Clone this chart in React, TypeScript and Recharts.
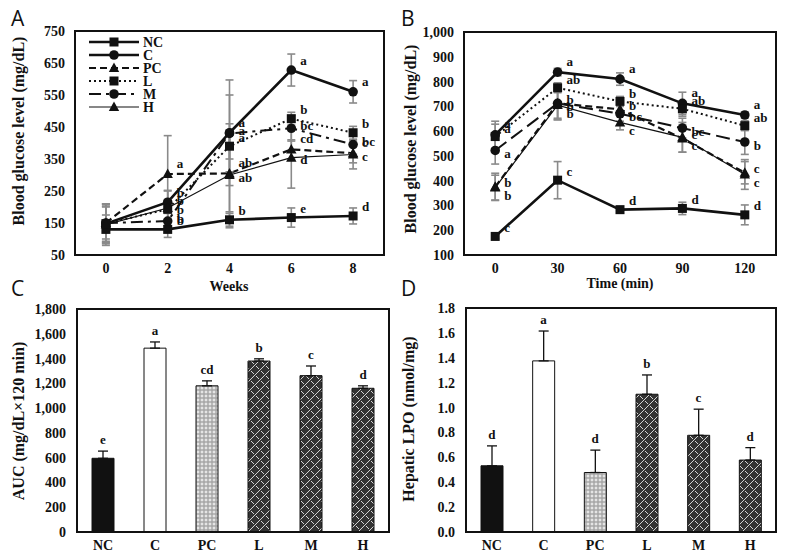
import React from 'react';
import { ComposedChart, Line, Bar, Cell, XAxis, YAxis, ErrorBar, LabelList, Legend } from 'recharts';

// ---------- data ----------
const groups = ['NC', 'C', 'PC', 'L', 'M', 'H'];

// Panel A – weekly blood glucose
const weeks = [0, 2, 4, 6, 8];
const aNC = [130, 130, 160, 167, 172];
const aC = [148, 215, 432, 628, 560];
const aPC = [150, 303, 305, 380, 368];
const aL = [148, 193, 390, 476, 432];
const aM = [150, 156, 430, 446, 395];
const aH = [145, 197, 300, 354, 364];
const aNCe = [45, 25, 25, 30, 25];
const aCe = [60, 35, 165, 50, 35];
const aPCe = [60, 120, 125, 30, 30];
const aLe = [55, 30, 40, 20, 20];
const aMe = [50, 30, 120, 40, 30];
const aHe = [65, 55, 160, 95, 45];
const aNCl = ['', 'b', 'b', 'e', 'd'];
const aCl = ['', 'b', 'a', 'a', 'a'];
const aPCl = ['', 'a', 'ab', 'cd', 'c'];
const aLl = ['', 'b', 'a', 'b', 'b'];
const aMl = ['', 'b', 'a', 'bc', 'bc'];
const aHl = ['', 'b', 'ab', 'd', 'c'];
const aTicks = [50, 150, 250, 350, 450, 550, 650, 750];

// Panel B – OGTT
const times = [0, 30, 60, 90, 120];
const bNC = [175, 402, 283, 288, 262];
const bC = [585, 838, 810, 712, 665];
const bPC = [375, 712, 688, 570, 432];
const bL = [578, 775, 720, 690, 622];
const bM = [522, 712, 670, 612, 556];
const bH = [372, 705, 635, 575, 425];
const bNCe = [10, 75, 12, 25, 40];
const bCe = [55, 15, 25, 45, 12];
const bPCe = [55, 65, 25, 55, 45];
const bLe = [50, 20, 20, 30, 20];
const bMe = [55, 60, 30, 40, 50];
const bHe = [50, 60, 30, 60, 60];
const bNCl = ['c', 'c', 'd', 'd', 'd'];
const bCl = ['a', 'a', 'a', 'a', 'a'];
const bPCl = ['b', 'b', 'b', 'c', 'c'];
const bLl = ['a', 'ab', 'b', 'ab', 'ab'];
const bMl = ['a', 'b', 'bc', 'bc', 'b'];
const bHl = ['b', 'b', 'c', 'c', 'c'];
const bTicks = [100, 200, 300, 400, 500, 600, 700, 800, 900, 1000];

// Panel C – AUC
const auc = [595, 1484, 1180, 1380, 1262, 1160];
const aucErr = [58, 50, 40, 18, 78, 20];
const aucLetters = ['e', 'a', 'cd', 'b', 'c', 'd'];
const cTicks = [0, 200, 400, 600, 800, 1000, 1200, 1400, 1600, 1800];

// Panel D – hepatic LPO
const lpo = [0.532, 1.375, 0.478, 1.107, 0.777, 0.578];
const lpoErr = [0.16, 0.24, 0.18, 0.155, 0.21, 0.1];
const lpoLetters = ['d', 'a', 'd', 'b', 'c', 'd'];
const dTicks = [0, 0.2, 0.4, 0.6, 0.8, 1.0, 1.2, 1.4, 1.6, 1.8];

// ---------- table builders ----------
function buildLineRows(xs: number[], vals: number[][], errs: number[][], letters: string[][]) {
  return xs.map((x, i) => {
    const row: any = { x };
    groups.forEach((g, k) => {
      row[g] = vals[k][i];
      row[g + '_e'] = errs[k][i];
      row[g + '_l'] = letters[k][i];
    });
    return row;
  });
}
const rowsA = buildLineRows(weeks, [aNC, aC, aPC, aL, aM, aH], [aNCe, aCe, aPCe, aLe, aMe, aHe], [aNCl, aCl, aPCl, aLl, aMl, aHl]);
const rowsB = buildLineRows(times, [bNC, bC, bPC, bL, bM, bH], [bNCe, bCe, bPCe, bLe, bMe, bHe], [bNCl, bCl, bPCl, bLl, bMl, bHl]);

function buildBarRows(vals: number[], errs: number[], letters: string[]) {
  return groups.map((g, i) => ({ g, value: vals[i], err: [0, errs[i]], top: vals[i] + errs[i], letter: letters[i] }));
}
const rowsC = buildBarRows(auc, aucErr, aucLetters);
const rowsD = buildBarRows(lpo, lpoErr, lpoLetters);

// ---------- styles ----------
const INK = '#111';
const SERIF = '"Liberation Serif", "Times New Roman", serif';
const lineStyles: Record<string, { w: number; dashA?: string; dashB?: string; shape: string }> = {
  NC: { w: 2.6, shape: 'square' },
  C: { w: 2.6, shape: 'circle' },
  PC: { w: 2.2, dashA: '7 4', dashB: '7 4', shape: 'triangle' },
  L: { w: 2, dashA: '2 3', dashB: '2 3', shape: 'square' },
  M: { w: 2, dashA: '12 5 3 5', dashB: '14 6', shape: 'circle' },
  H: { w: 1.2, shape: 'triangle' },
};
// vertical nudges of the significance letters (label styling per series and panel)
const letterNudge: Record<string, Record<string, number>> = {
  A: { NC: -9, C: -10, PC: -11, L: -9, M: -3, H: 2 },
  B: { NC: -9, C: -11, PC: -4, L: -8, M: 3, H: 8 },
};
const barFills = [INK, '#ffffff', 'url(#dotsPat)', 'url(#weavePat)', 'url(#weavePat)', 'url(#weavePat)'];
const tickStyle = { fontFamily: SERIF, fontWeight: 700, fontSize: 14, fill: INK };

function markerShape(shape: string, cx: number, cy: number, key?: any) {
  if (shape === 'square') return <rect key={key} x={cx - 4.5} y={cy - 4.5} width={9} height={9} fill={INK} />;
  if (shape === 'circle') return <circle key={key} cx={cx} cy={cy} r={4.8} fill={INK} />;
  return <polygon key={key} points={`${cx},${cy - 5.5} ${cx + 5.2},${cy + 4} ${cx - 5.2},${cy + 4}`} fill={INK} />;
}

const makeLetter = (dy: number) => (props: any) => {
  const { x, y, value } = props;
  if (!value || x == null) return null;
  return (
    <text x={x + 9} y={y + dy} textAnchor="start" dominantBaseline="central" fontFamily={SERIF} fontWeight={700} fontSize={13} fill={INK}>
      {value}
    </text>
  );
};

const LegendA = () => (
  <svg width={100} height={82} style={{ overflow: 'visible', display: 'block' }}>
    {groups.map((g, i) => {
      const st = lineStyles[g];
      const y = 6 + i * 13;
      return (
        <g key={g}>
          <line x1={1} x2={51} y1={y} y2={y} stroke={INK} strokeWidth={st.w} strokeDasharray={st.dashA} />
          {markerShape(st.shape, 26, y)}
          <text x={55} y={y} dominantBaseline="central" fontFamily={SERIF} fontWeight={700} fontSize={14} fill={INK}>
            {g}
          </text>
        </g>
      );
    })}
  </svg>
);

function renderLines(panel: 'A' | 'B') {
  return groups.map((g) => {
    const st = lineStyles[g];
    return (
      <Line
        key={g}
        type="linear"
        dataKey={g}
        stroke={INK}
        strokeWidth={st.w}
        strokeDasharray={panel === 'A' ? st.dashA : st.dashB}
        dot={(p: any) => markerShape(st.shape, p.cx, p.cy, p.index)}
        activeDot={false}
        isAnimationActive={false}
        legendType="none"
      >
        <ErrorBar dataKey={g + '_e'} direction="y" width={4} stroke="#8a8a8a" strokeWidth={1.6} />
        <LabelList dataKey={g + '_l'} content={makeLetter(letterNudge[panel][g])} />
      </Line>
    );
  });
}

const Border = ({ left, top, width, height }: any) => (
  <div
    style={{
      position: 'absolute',
      left: left - 1,
      top: top - 1,
      width: width + 2,
      height: height + 2,
      border: `2px solid ${INK}`,
      boxSizing: 'border-box',
      pointerEvents: 'none',
    }}
  />
);

const PanelLetter = ({ x, y, t }: any) => (
  <div style={{ position: 'absolute', left: x, top: y, fontFamily: '"Open Sans", sans-serif', fontSize: 21, lineHeight: '21px', color: INK }}>{t}</div>
);

const AxisTitle = ({ cx, cy, t, rot }: any) => (
  <div
    style={{
      position: 'absolute',
      left: cx,
      top: cy,
      transform: `translate(-50%, -50%)${rot ? ' rotate(-90deg)' : ''}`,
      whiteSpace: 'nowrap',
      fontFamily: SERIF,
      fontWeight: 700,
      fontSize: rot ? 16 : 14,
      color: INK,
      lineHeight: '17px',
    }}
  >
    {t}
  </div>
);

const fmtComma = (v: number) => v.toLocaleString('en-US');

function BarPanel({ rows, ticks, domain, fmt, margin, yWidth }: any) {
  return (
    <ComposedChart width={393} height={268} data={rows} margin={margin}>
      <XAxis dataKey="g" type="category" tickLine={false} axisLine={false} tickSize={0} tickMargin={8} height={26} tick={tickStyle} interval={0} />
      <YAxis type="number" domain={domain} ticks={ticks} tickFormatter={fmt} tickLine={false} axisLine={false} tickSize={0} tickMargin={11} width={yWidth} tick={tickStyle} interval={0} />
      <Bar dataKey="value" barSize={22} stroke={INK} strokeWidth={1} isAnimationActive={false} legendType="none">
        {rows.map((r: any, i: number) => (
          <Cell key={r.g} fill={barFills[i]} />
        ))}
        <ErrorBar dataKey="err" direction="y" width={5} stroke={INK} strokeWidth={1.3} />
      </Bar>
      <Line dataKey="top" stroke="none" dot={false} activeDot={false} isAnimationActive={false} legendType="none">
        <LabelList dataKey="letter" position="top" offset={7} fontFamily={SERIF} fontWeight={700} fontSize={13} fill={INK} />
      </Line>
    </ComposedChart>
  );
}

export default function App() {
  return (
    <div style={{ position: 'absolute', left: 0, top: 0, width: 787, height: 558, background: '#fff', overflow: 'hidden' }}>
      <svg width={0} height={0} style={{ position: 'absolute' }}>
        <defs>
          <pattern id="dotsPat" width={4} height={4} patternUnits="userSpaceOnUse">
            <rect width={4} height={4} fill="#a9a9a9" />
            <path d="M2 0.6V3.4M0.6 2H3.4" stroke="#ffffff" strokeWidth={0.9} />
          </pattern>
          <pattern id="weavePat" width={10} height={10} patternUnits="userSpaceOnUse">
            <rect width={10} height={10} fill="#333333" />
            <path d="M0 10L10 0M-1 1L1 -1M9 11L11 9" stroke="#e6e6e6" strokeWidth={0.9} />
            <path d="M1 1L4 4M6 6L9 9" stroke="#e6e6e6" strokeWidth={0.9} />
          </pattern>
        </defs>
      </svg>

      {/* Panel A */}
      <div style={{ position: 'absolute', left: 0, top: 0 }}>
        <ComposedChart width={394} height={300} data={rowsA} margin={{ top: 31, right: 10, left: 15, bottom: 15 }}>
          <XAxis dataKey="x" type="number" domain={[-1, 9]} ticks={weeks} tickLine={false} axisLine={false} tickSize={0} tickMargin={8} height={30} tick={tickStyle} interval={0} />
          <YAxis type="number" domain={[50, 750]} ticks={aTicks} tickLine={false} axisLine={false} tickSize={0} tickMargin={10} width={60} tick={tickStyle} interval={0} />
          {renderLines('A')}
          <Legend layout="horizontal" verticalAlign="middle" align="center" content={() => <LegendA />} wrapperStyle={{ position: 'absolute', left: 88, top: 36, width: 100, height: 82 }} />
        </ComposedChart>
      </div>
      <Border left={75} top={31} width={309} height={224} />

      {/* Panel B */}
      <div style={{ position: 'absolute', left: 394, top: 0 }}>
        <ComposedChart width={393} height={300} data={rowsB} margin={{ top: 32, right: 11, left: 10, bottom: 15 }}>
          <XAxis dataKey="x" type="number" domain={[-15, 135]} ticks={times} tickLine={false} axisLine={false} tickSize={0} tickMargin={8} height={30} tick={tickStyle} interval={0} />
          <YAxis type="number" domain={[100, 1000]} ticks={bTicks} tickFormatter={fmtComma} tickLine={false} axisLine={false} tickSize={0} tickMargin={10} width={60} tick={tickStyle} interval={0} />
          {renderLines('B')}
        </ComposedChart>
      </div>
      <Border left={464} top={32} width={312} height={223} />

      {/* Panel C */}
      <div style={{ position: 'absolute', left: 0, top: 290 }}>
        <BarPanel rows={rowsC} ticks={cTicks} domain={[0, 1800]} fmt={fmtComma} margin={{ top: 19, right: 4, left: 15, bottom: 0 }} yWidth={62} />
      </div>
      <Border left={77} top={309} width={312} height={223} />

      {/* Panel D */}
      <div style={{ position: 'absolute', left: 394, top: 290 }}>
        <BarPanel rows={rowsD} ticks={dTicks} domain={[0, 1.8]} fmt={(v: number) => v.toFixed(1)} margin={{ top: 18, right: 11, left: 12, bottom: 0 }} yWidth={60} />
      </div>
      <Border left={466} top={308} width={310} height={224} />

      {/* Panel letters and axis titles */}
      <PanelLetter x={11} y={8} t="A" />
      <PanelLetter x={401} y={8} t="B" />
      <PanelLetter x={11} y={278} t="C" />
      <PanelLetter x={401} y={278} t="D" />

      <AxisTitle cx={229} cy={286} t="Weeks" />
      <AxisTitle cx={620} cy={283} t="Time (min)" />
      <AxisTitle cx={18} cy={131} t="Blood glucose level (mg/dL)" rot />
      <AxisTitle cx={410} cy={139} t="Blood glucose level (mg/dL)" rot />
      <AxisTitle cx={18} cy={421} t="AUC (mg/dL×120 min)" rot />
      <AxisTitle cx={408} cy={419} t="Hepatic LPO (nmol/mg)" rot />
    </div>
  );
}
